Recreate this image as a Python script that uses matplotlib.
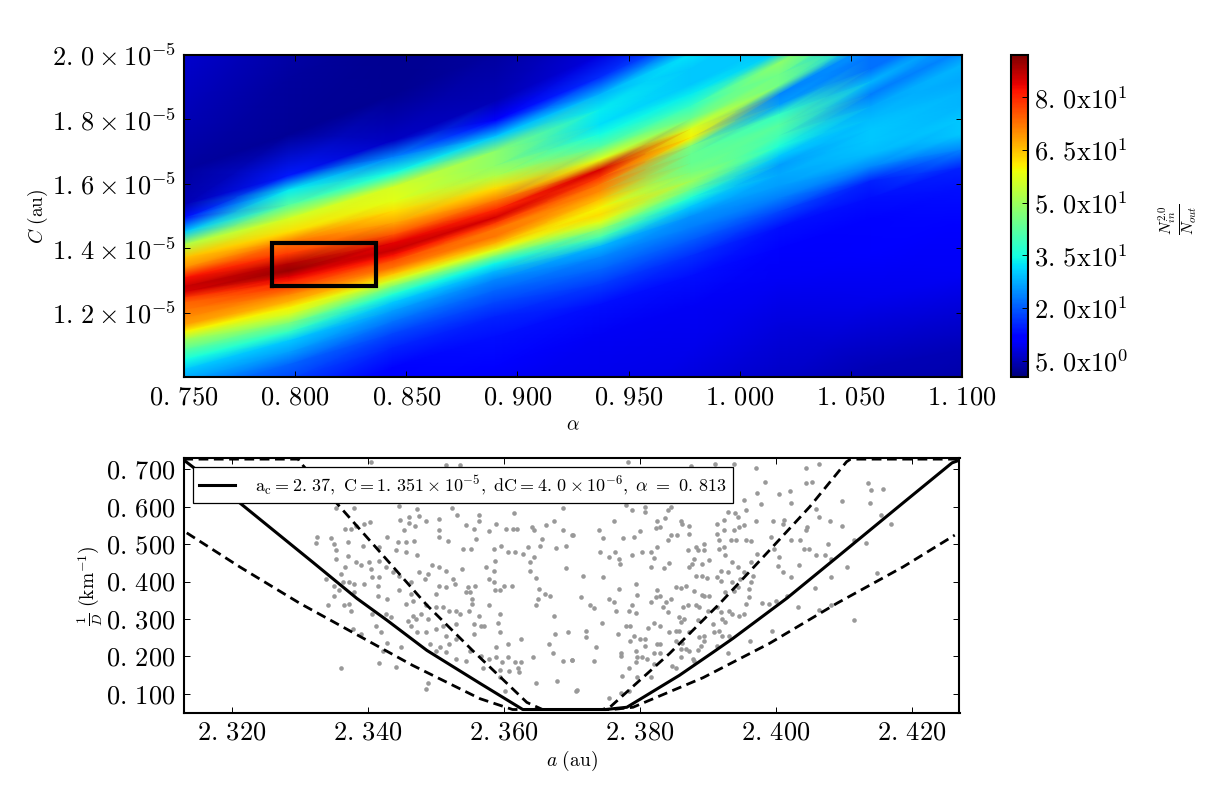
import numpy as np
import matplotlib
matplotlib.use('Agg')
import matplotlib.pyplot as plt

plt.rcParams['mathtext.fontset'] = 'cm'
plt.rcParams['font.family'] = ['cmr10', 'DejaVu Sans']
plt.rcParams['axes.formatter.use_mathtext'] = True

W, H = 1230, 792

# Heat map: values read along ridges that run across the panel.
# Each row of heat_rows follows one ridge, sampled at alpha_stations.
alpha_stations = [0.75, 0.797, 0.844, 0.89, 0.937, 0.978, 1.018, 1.059, 1.10]
ridge_C_left = [2.02,1.798,1.643,1.534,1.494,1.450,1.410,1.370,1.339,1.307,1.280,1.264,1.245,1.230,1.208,1.183,1.161,1.140,1.115,1.084,1.053,1.022,.984,.944,.898,.835,.742,.618,.432,.307]
ridge_C_mid = [2.637,2.357,2.155,2.000,1.929,1.876,1.829,1.783,1.752,1.714,1.674,1.643,1.618,1.596,1.575,1.550,1.525,1.503,1.481,1.457,1.432,1.404,1.370,1.332,1.286,1.224,1.130,1.006,.835,.680]
ridge_C_right = [3.258,2.947,2.761,2.637,2.512,2.450,2.404,2.357,2.326,2.295,2.264,2.233,2.202,2.155,2.109,2.062,2.016,1.969,1.922,1.885,1.845,1.798,1.752,1.705,1.649,1.581,1.472,1.317,1.084,.929]
heat_rows = [
 [7,5,5,5,5,5,5,5,5],
 [5,3,2,2,3,3,3,3,3],
 [3,2.5,2,3,5,5,5,5,5],
 [5,14,6,5,8,8,8,8,8],
 [13,33,24,12,16,20,20,20,20],
 [30,42,35,30,28,32,30,30,30],
 [52,56,56,48,33,30,30,30,30],
 [65,62,58,48,32,30,30,30,30],
 [70,72,62,52,35,33,30,30,30],
 [82,78,68,62,42,38,48,40,30],
 [86,88,76,72,58,45,45,30,30],
 [85,90,84,80,85,58,45,30,30],
 [78,84,86,85,78,60,24,25,25],
 [74,80,82,78,72,46,26,22,22],
 [72,76,76,72,70,44,38,22,22],
 [70,70,72,72,65,44,42,28,25],
 [68,66,64,66,60,46,40,23,24],
 [60,60,56,58,62,50,36,27,28],
 [50,56,46,46,58,44,30,29,27],
 [42,46,36,34,48,36,26,30,28],
 [35,38,30,28,40,30,27,30,28],
 [30,30,26,24,28,25,26,29,30],
 [26,26,22,21,24,23,23,24,30],
 [22,21,18,18,21,20,18,15,24],
 [20,18,15,15,17,16,13,13,15],
 [20,15,12,13,13,13,12,12,13],
 [20,14,11,11,10,10,10,11,11],
 [20,14,10,9,9,9,8,9,10],
 [20,14,10,9,9,7,6,5,5],
 [20,14,10,9,9,7,6,4,3],
]
heat_vmin, heat_vmax = 0.4, 92.0
box_alpha = (0.7896, 0.8365)
box_C = (1.283e-5, 1.417e-5)

alpha_ticks = [0.75, 0.80, 0.85, 0.90, 0.95, 1.00, 1.05, 1.10]
alpha_labels = ['0.\\,750', '0.\\,800', '0.\\,850', '0.\\,900', '0.\\,950', '1.\\,000', '1.\\,050', '1.\\,100']
C_ticks = [1.2e-5, 1.4e-5, 1.6e-5, 1.8e-5, 2.0e-5]
C_labels = ['1.\\,2', '1.\\,4', '1.\\,6', '1.\\,8', '2.\\,0']
cb_ticks = [5, 20, 35, 50, 65, 80]
cb_labels = ['5.\\,0\\mathrm{x}10^{0}', '2.\\,0\\mathrm{x}10^{1}', '3.\\,5\\mathrm{x}10^{1}',
             '5.\\,0\\mathrm{x}10^{1}', '6.\\,5\\mathrm{x}10^{1}', '8.\\,0\\mathrm{x}10^{1}']

# Lower panel curves (a, 1/D)
solid_a = [2.3129,2.3212,2.3319,2.3384,2.3428,2.3487,2.3565,2.3628,2.3750,2.3781,2.3858,2.3907,2.3937,2.4016,2.409,2.4187,2.4259,2.4268]
solid_d = [0.7255,0.610,0.452,0.355,0.297,0.216,0.128,0.058,0.058,0.064,0.149,0.210,0.248,0.355,0.465,0.61,0.717,0.723]
outer_a = [2.3134,2.3212,2.33,2.3378,2.3466,2.3565,2.3613,2.376,2.379,2.3893,2.3991,2.409,2.4187,2.4263]
outer_d = [0.530,0.439,0.342,0.264,0.176,0.087,0.058,0.058,0.064,0.143,0.235,0.342,0.439,0.524]
inner_a = [2.3129,2.3298,2.33,2.3359,2.3418,2.3487,2.3554,2.3634,2.3657,2.3745,2.3756,2.3844,2.3918,2.3991,2.405,2.4104,2.411,2.4269]
inner_d = [0.727,0.727,0.72,0.60,0.479,0.337,0.216,0.077,0.058,0.058,0.064,0.208,0.342,0.484,0.60,0.72,0.727,0.727]

a_ticks = [2.32, 2.34, 2.36, 2.38, 2.40, 2.42]
a_labels = ['2.\\,320', '2.\\,340', '2.\\,360', '2.\\,380', '2.\\,400', '2.\\,420']
d_ticks = [0.1, 0.2, 0.3, 0.4, 0.5, 0.6, 0.7]
d_labels = ['0.\\,100', '0.\\,200', '0.\\,300', '0.\\,400', '0.\\,500', '0.\\,600', '0.\\,700']

points_left = [
(2.3325,.520),(2.3324,.503),(2.3346,.517),(2.3351,.501),(2.3353,.483),(2.3371,.505),(2.3367,.541),(2.3375,.541),(2.3383,.547),(2.3395,.554),(2.3404,.559),(2.3354,.461),(2.3371,.467),(2.3367,.438),(2.3383,.452),(2.3390,.443),(2.3402,.452),(2.3405,.434),(2.3361,.419),(2.3339,.407),(2.3363,.398),(2.3373,.398),(2.3380,.394),(2.3351,.387),(2.3358,.376),(2.3350,.362),(2.3380,.371),(2.3395,.394),(2.3407,.412),(2.3417,.412),(2.3415,.389),(2.3415,.362),(2.3429,.354),(2.3341,.336),(2.3365,.337),(2.3372,.340),(2.3376,.322),(2.3407,.313),(2.3427,.313),(2.3434,.304),(2.3412,.280),(2.3420,.264),(2.3378,.273),(2.3390,.260),(2.3429,.237),(2.3449,.224),(2.3422,.215),(2.3417,.181),(2.3442,.172),(2.3361,.170),(2.3488,.130),(2.3486,.112),
(2.3393,.496),(2.3417,.492),(2.3429,.519),(2.3444,.505),(2.3456,.505),(2.3468,.508),(2.3442,.483),(2.3456,.479),(2.3473,.472),(2.3417,.456),(2.3427,.438),(2.3437,.425),(2.3446,.416),(2.3476,.425),(2.3489,.420),(2.3464,.398),(2.3484,.407),(2.3495,.443),(2.3505,.438),(2.3515,.429),(2.3539,.434),(2.3525,.407),(2.3515,.385),(2.3505,.389),(2.3500,.367),(2.3528,.394),(2.3446,.376),(2.3464,.367),(2.3456,.340),(2.3466,.349),(2.3486,.336),(2.3479,.313),(2.3466,.309),(2.3459,.295),(2.3471,.300),(2.3488,.300),(2.3500,.331),(2.3510,.331),(2.3520,.322),(2.3530,.322),(2.3500,.273),(2.3510,.282),(2.3486,.264),(2.3473,.264),(2.3464,.282),(2.3530,.287),(2.3515,.255),(2.3530,.246),(2.3520,.233),(2.3506,.224),(2.3491,.233),(2.3515,.211),(2.3500,.215),(2.3530,.193),(2.3544,.188),(2.3551,.215),(2.3556,.260),(2.3556,.287),(2.3564,.309),(2.3566,.282),(2.3571,.282),(2.3549,.322),(2.3535,.313),(2.3544,.371),(2.3551,.371),(2.3554,.354),(2.3548,.385),(2.3558,.387),(2.3554,.340),(2.3578,.336),(2.3594,.313),(2.3591,.289),(2.3594,.264),(2.3606,.233),(2.3589,.224),(2.3579,.193),(2.3566,.202),(2.3569,.170),(2.3589,.197),(2.3597,.184),(2.3606,.199),(2.3616,.184),(2.3626,.186),(2.3621,.170),(2.3623,.157),(2.3608,.161),(2.3594,.163),(2.3594,.144),(2.3602,.108),(2.3647,.130),(2.3679,.135),(2.3706,.108),(2.3626,.246),(2.3643,.199),(2.3666,.233),(2.3672,.209),(2.3687,.188),(2.3700,.190),(2.3675,.260),(2.3695,.264),(2.3674,.307),(2.3647,.336),(2.3650,.352),(2.3652,.379),(2.3661,.367),(2.3668,.360),(2.3647,.410),(2.3638,.429),(2.3645,.465),(2.3638,.452),(2.3691,.437),(2.3587,.456),(2.3585,.429),(2.3578,.407),(2.3585,.398),(2.3600,.389),(2.3612,.387),(2.3587,.376),(2.3595,.376),(2.3574,.438),(2.3586,.487),(2.3596,.496),(2.3606,.479),(2.3616,.479),(2.3628,.474),(2.3636,.492),(2.3653,.495),(2.3657,.514),(2.3677,.490),(2.3691,.496),(2.3687,.537),(2.3701,.523),(2.3674,.563),(2.3662,.550),(2.3642,.546),(2.3645,.537),(2.3620,.541),(2.3603,.541),(2.3613,.541),(2.3615,.583),(2.3589,.554),(2.3579,.534),(2.3564,.577),(2.3564,.563),(2.3556,.541),(2.3559,.514),(2.3544,.550),(2.3540,.487),(2.3552,.487),(2.3518,.508),(2.3505,.519),(2.3505,.537),(2.3505,.568),(2.3532,.579),(2.3524,.597),(2.3473,.595),(2.3461,.572),(2.3475,.575),(2.3486,.563),(2.3447,.565),(2.3461,.556),(2.3454,.537),(2.3470,.547),(2.3446,.601),(2.3405,.72),(2.3515,.711),(2.3535,.711),(2.3687,.597),(2.3353,.597),(2.3380,.597),
]
points_right = [
(2.3782,.72),(2.3875,.708),(2.3910,.713),(2.3939,.713),(2.3971,.704),(2.4044,.704),(2.4064,.715),(2.3984,.666),(2.4045,.662),(2.4053,.666),(2.4135,.663),(2.4140,.644),(2.4157,.648),(2.3973,.637),(2.4005,.633),(2.4021,.642),(2.3953,.617),(2.3978,.606),(2.4023,.610),(2.4097,.615),(2.4139,.610),(2.3780,.604),(2.3788,.590),(2.3808,.599),(2.3808,.586),(2.3846,.599),(2.3841,.590),(2.3956,.592),(2.3930,.586),(2.3940,.583),(2.4059,.593),(2.4063,.572),(2.4154,.579),(2.4169,.553),(2.3762,.562),(2.3825,.563),(2.3837,.570),(2.3860,.562),(2.3862,.553),(2.3873,.548),(2.3924,.565),(2.3944,.572),(2.3971,.562),(2.3996,.562),(2.4012,.565),(2.4010,.553),(2.4046,.546),(2.4045,.537),(2.4079,.562),(2.4098,.548),(2.3740,.537),(2.3702,.523),(2.3746,.516),(2.3776,.516),(2.3792,.520),(2.3801,.534),(2.3824,.543),(2.3830,.545),(2.3873,.528),(2.3914,.553),(2.3914,.528),(2.3924,.537),(2.3939,.537),(2.3946,.546),(2.3953,.550),(2.3841,.510),(2.3846,.523),(2.3854,.523),(2.3917,.510),(2.3934,.512),(2.3941,.510),(2.3956,.510),(2.3963,.508),(2.3993,.519),(2.4023,.512),(2.4035,.510),(2.4115,.510),(2.4132,.503),(2.4076,.499),(2.3741,.479),(2.3764,.479),(2.3755,.465),(2.3770,.461),(2.3771,.447),(2.3788,.470),(2.3803,.479),(2.3816,.479),(2.3826,.492),(2.3821,.462),(2.3817,.438),(2.3843,.449),(2.3836,.437),(2.3871,.483),(2.3882,.492),(2.3894,.501),(2.3885,.483),(2.3895,.485),(2.3880,.461),(2.3877,.447),(2.3873,.438),(2.3892,.447),(2.3902,.458),(2.3917,.487),(2.3924,.492),(2.3926,.470),(2.3936,.452),(2.3944,.438),(2.3963,.452),(2.3973,.474),(2.3998,.487),(2.4005,.465),(2.4003,.442),(2.4010,.425),(2.4022,.411),(2.4034,.443),(2.4042,.487),(2.4049,.487),(2.4059,.472),(2.4072,.471),(2.4081,.461),(2.4105,.438),(2.4081,.411),(2.4057,.383),(2.4149,.422),(2.3716,.416),(2.3746,.411),(2.3883,.416),(2.3892,.416),(2.3899,.410),(2.3919,.429),(2.3929,.425),(2.3914,.411),(2.3919,.401),(2.3953,.425),(2.3966,.416),(2.3963,.398),(2.3948,.407),(2.3936,.398),(2.3944,.385),(2.3961,.380),(2.3961,.358),(2.3956,.340),(2.3939,.374),(2.3926,.371),(2.3902,.362),(2.3892,.365),(2.3895,.362),(2.3880,.374),(2.3868,.389),(2.3853,.386),(2.3860,.383),(2.3825,.376),(2.3824,.358),(2.3796,.365),(2.3794,.394),(2.3770,.380),(2.3714,.358),(2.3755,.354),(2.3762,.345),(2.3727,.336),(2.3733,.329),(2.3788,.336),(2.3784,.322),(2.3794,.315),(2.3765,.322),(2.3816,.345),(2.3830,.361),(2.3839,.345),(2.3846,.352),(2.3834,.331),(2.3841,.318),(2.3863,.333),(2.3871,.336),(2.3883,.336),(2.3887,.331),(2.3900,.322),(2.3914,.331),(2.3919,.318),(2.3931,.322),(2.3936,.313),(2.3946,.309),(2.3953,.313),(2.3980,.342),(2.3990,.340),(2.4000,.349),(2.4017,.362),(2.4032,.333),(2.4064,.324),(2.4081,.338),(2.4115,.297),(2.3745,.288),(2.3780,.280),(2.3786,.282),(2.3812,.276),(2.3821,.288),(2.3830,.282),(2.3858,.304),(2.3865,.300),(2.3860,.291),(2.3853,.269),(2.3843,.264),(2.3858,.269),(2.3873,.264),(2.3885,.296),(2.3907,.287),(2.3921,.300),(2.3926,.291),(2.3909,.264),(2.3917,.269),(2.3921,.255),(2.3931,.255),(2.3962,.242),(2.3994,.269),(2.3721,.269),(2.3721,.251),(2.3768,.260),(2.3792,.255),(2.3801,.246),(2.3808,.246),(2.3786,.242),(2.3825,.233),(2.3830,.233),(2.3808,.228),(2.3853,.242),(2.3862,.237),(2.3887,.251),(2.3895,.240),(2.3895,.255),(2.3890,.228),(2.3736,.224),(2.3772,.210),(2.3772,.202),(2.3794,.215),(2.3821,.210),(2.3830,.210),(2.3860,.220),(2.3868,.220),(2.3873,.215),(2.3885,.217),(2.3914,.228),(2.3930,.209),(2.3733,.188),(2.3700,.190),(2.3796,.197),(2.3804,.197),(2.3794,.186),(2.3811,.193),(2.3821,.179),(2.3784,.170),(2.3848,.175),(2.3860,.197),(2.3878,.193),(2.3880,.188),(2.3853,.170),(2.3774,.148),(2.3796,.144),(2.3816,.144),(2.3707,.110),(2.3755,.088),(2.3772,.101),(2.3784,.108),
]

legend_text = (r'$\mathrm{a_c = 2.\,37,\ C = 1.\,351 \times 10^{-5},\ '
               r'dC = 4.\,0 \times 10^{-6},}\ \alpha\ =\ 0.\,813$')


def px_axes(fig, x0, y0, x1, y1):
    return fig.add_axes([x0 / W, 1 - y1 / H, (x1 - x0) / W, (y1 - y0) / H])


def style(ax):
    for s in ax.spines.values():
        s.set_linewidth(1.5)
    ax.tick_params(which='both', direction='in', top=True, right=True, length=4,
                   width=0.7, labelsize=19, pad=6)


fig = plt.figure(figsize=(W / 100, H / 100), dpi=100)

# Top panel
ax = px_axes(fig, 184, 55, 962, 377)
heat = np.array(heat_rows, dtype=float)
stations = np.array(alpha_stations)
anchors = [alpha_stations[0], alpha_stations[4], alpha_stations[-1]]
# Each ridge is a smooth curve through its three read positions.
mesh_C = np.array([np.polyval(np.polyfit(anchors, [l, m, r], 2), stations) * 1e-5
                   for l, m, r in zip(ridge_C_left, ridge_C_mid, ridge_C_right)])
mesh_alpha = np.tile(stations, (heat.shape[0], 1))
mesh = ax.pcolormesh(mesh_alpha, mesh_C, heat, cmap='jet', shading='gouraud',
                     vmin=heat_vmin, vmax=heat_vmax, rasterized=True)
ax.plot([box_alpha[0], box_alpha[1], box_alpha[1], box_alpha[0], box_alpha[0]],
        [box_C[0], box_C[0], box_C[1], box_C[1], box_C[0]], color='k', lw=3,
        solid_joinstyle='miter')
ax.set_xlim(0.75, 1.10)
ax.set_ylim(1.0e-5, 2.0e-5)
style(ax)
ax.set_xticks(alpha_ticks)
ax.set_xticklabels(['$%s$' % s for s in alpha_labels])
ax.set_yticks(C_ticks)
ax.set_yticklabels(['$%s\\times10^{-5}$' % s for s in C_labels])
ax.set_xlabel(r'$\alpha$', fontsize=14, labelpad=5)
ax.set_ylabel(r'$C\ \mathrm{(au)}$', fontsize=14, labelpad=1)

# Colour bar
cax = px_axes(fig, 1011, 55, 1028, 377)
cb = fig.colorbar(mesh, cax=cax, ticks=cb_ticks)
cb.ax.set_yticklabels(['$%s$' % s for s in cb_labels])
cb.ax.tick_params(direction='in', length=4, width=0.7, labelsize=19, pad=4)
cb.outline.set_linewidth(1.5)
fig.text(1178 / W, 1 - 219 / H, r'$\frac{N_{in}^{2.0}}{N_{out}}$', rotation=90,
         ha='center', va='center', fontsize=16)

# Bottom panel
ax2 = px_axes(fig, 184, 458, 959.5, 712.5)
pts = np.array(points_left + points_right)
ax2.scatter(pts[:, 0], pts[:, 1], s=11, color='#999999', linewidths=0, zorder=2)
ax2.plot(solid_a, solid_d, color='k', lw=2.2, zorder=3, label=legend_text)
ax2.plot(outer_a, outer_d, color='k', lw=2, dashes=(3.5, 2), zorder=3)
ax2.plot(inner_a, inner_d, color='k', lw=2, dashes=(3.5, 2), zorder=3)
ax2.set_xlim(2.313, 2.427)
ax2.set_ylim(0.05, 0.73)
style(ax2)
ax2.set_xticks(a_ticks)
ax2.set_xticklabels(['$%s$' % s for s in a_labels])
ax2.set_yticks(d_ticks)
ax2.set_yticklabels(['$%s$' % s for s in d_labels])
ax2.set_xlabel(r'$a\ \mathrm{(au)}$', fontsize=14, labelpad=3)
ax2.set_ylabel(r'$\frac{1}{D}\ \mathrm{(km^{-1})}$', fontsize=14, labelpad=1)
leg = ax2.legend(loc='upper left', bbox_to_anchor=(9 / 775.5, 1 - 9 / 254.5), borderaxespad=0,
                 fontsize=13, fancybox=False, framealpha=1, edgecolor='k',
                 handlelength=2.0, handletextpad=1.1, borderpad=0.35)
leg.get_frame().set_linewidth(0.9)
leg.set_zorder(5)

fig.savefig('out.png', dpi=100)
